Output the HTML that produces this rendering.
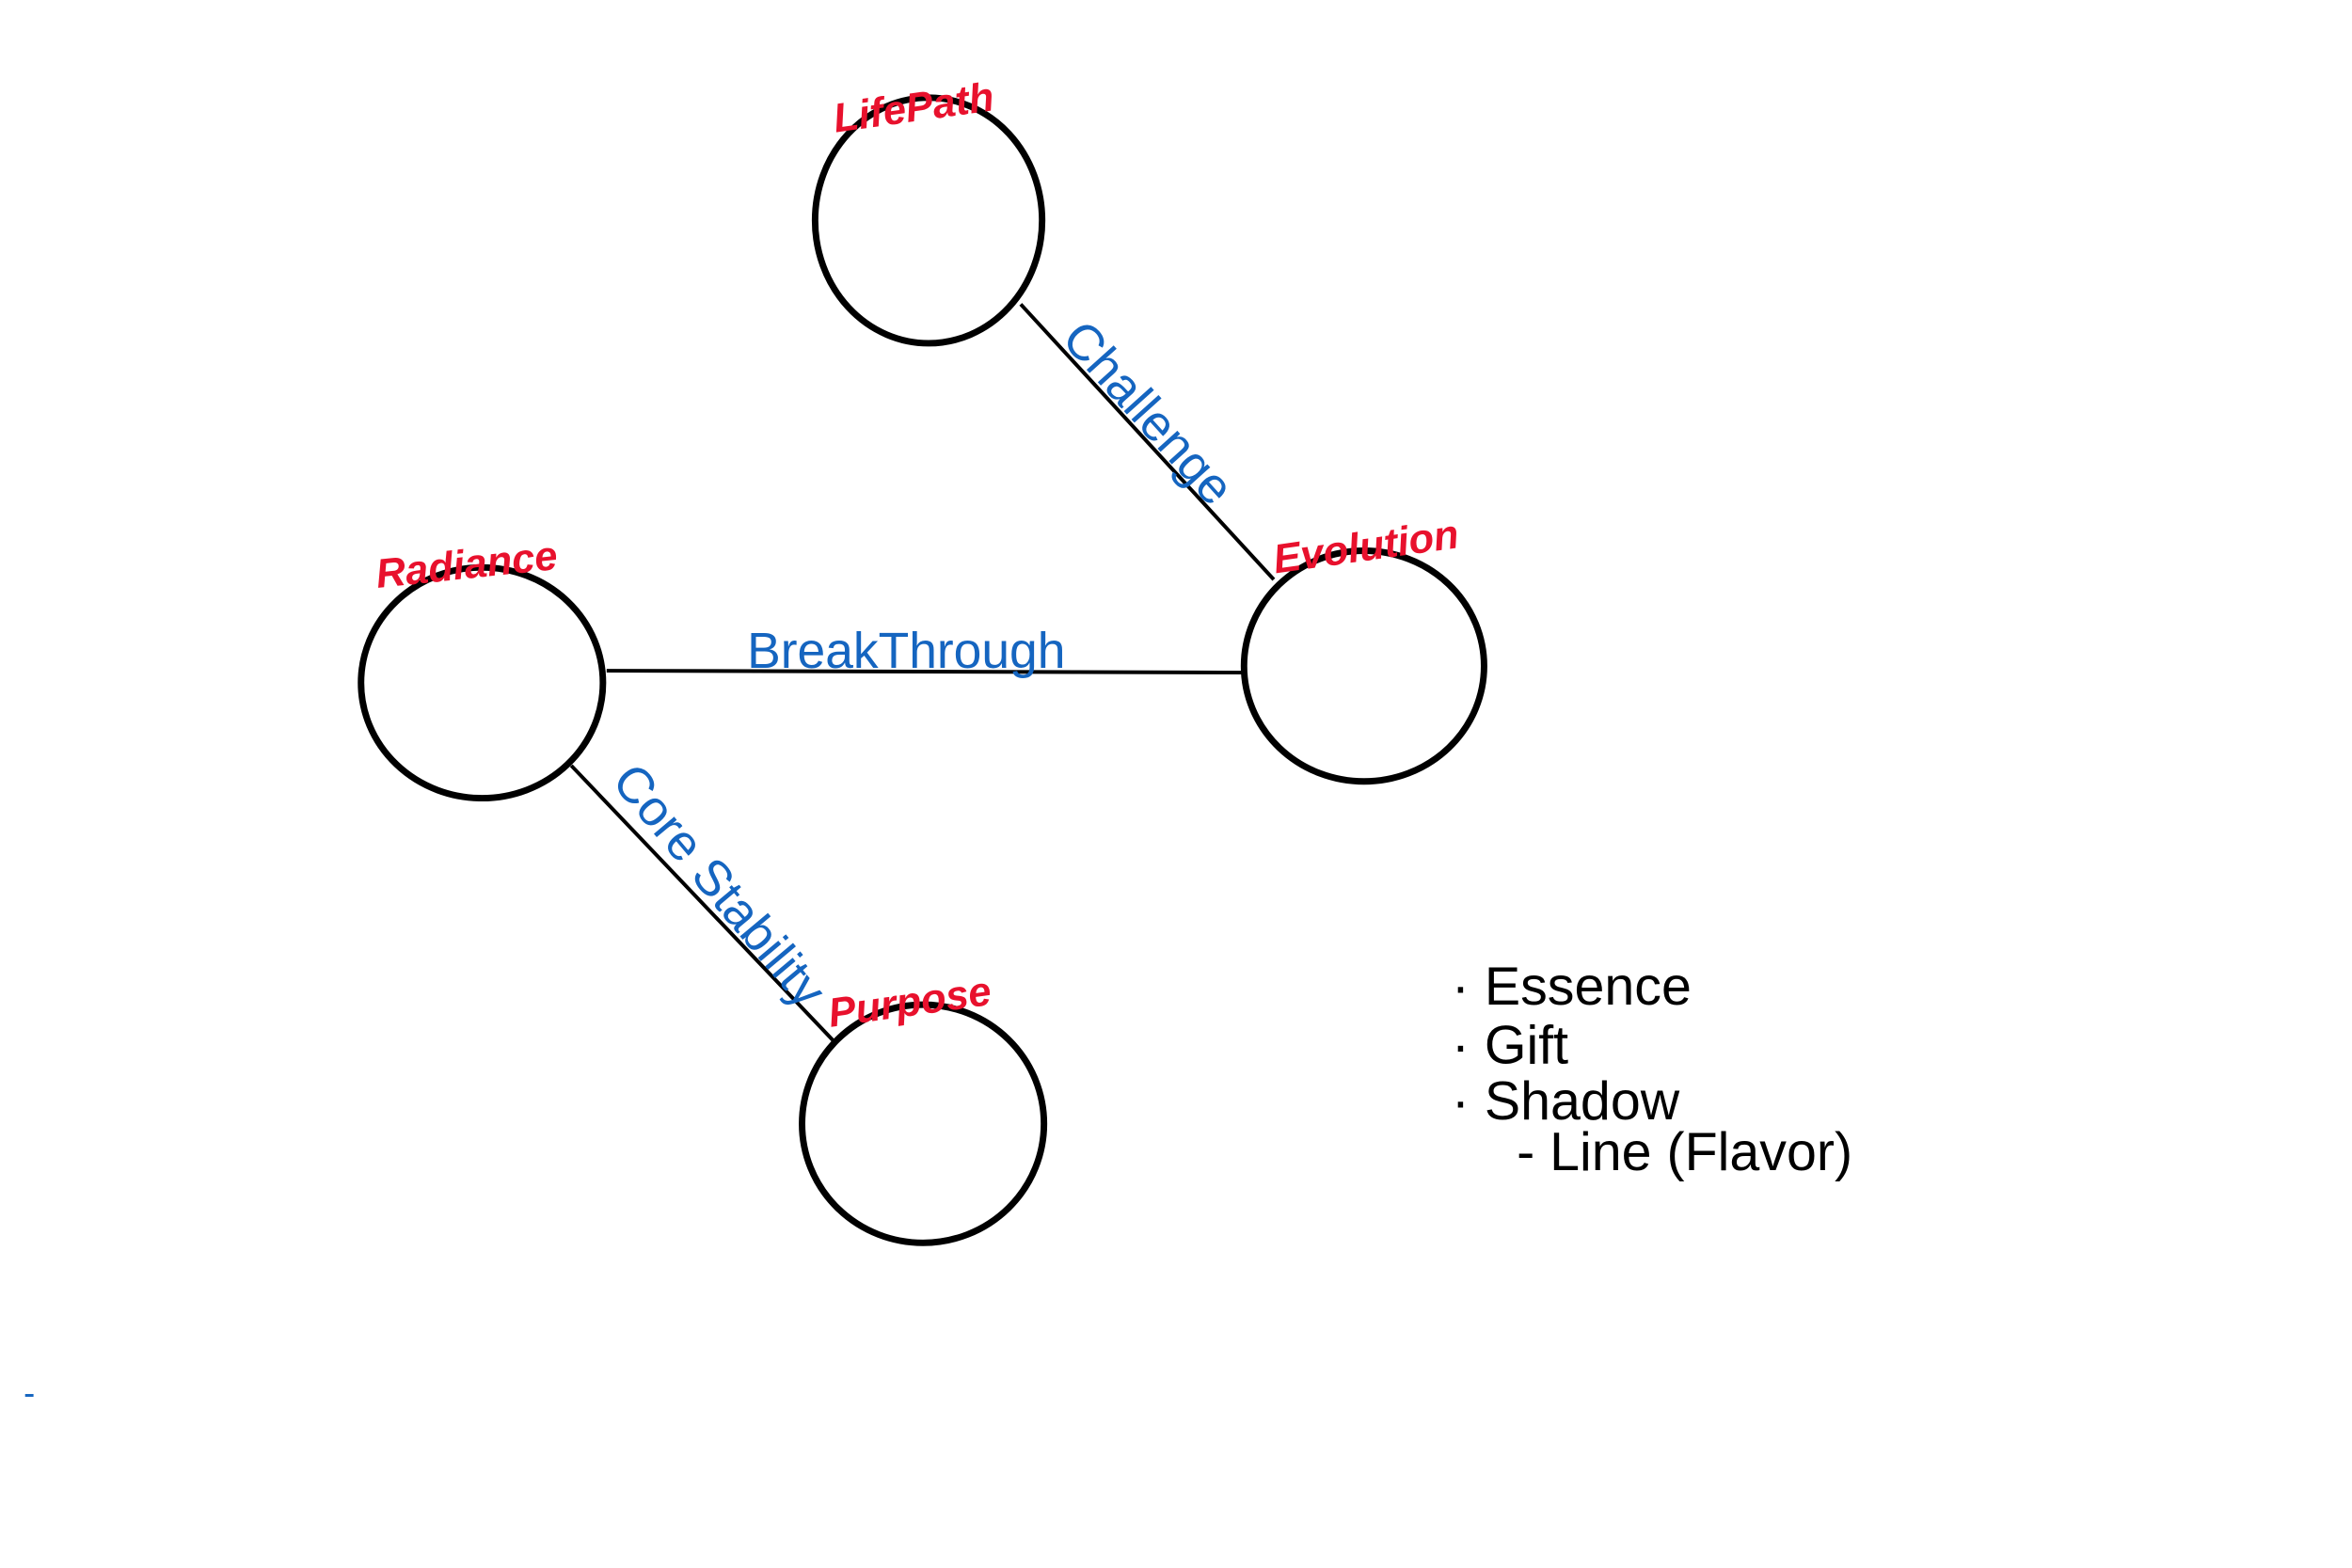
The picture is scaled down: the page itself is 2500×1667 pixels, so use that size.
<!DOCTYPE html>
<html><head><meta charset="utf-8"><style>
html,body{margin:0;padding:0;background:#fff;}
svg{display:block;}
text{font-family:"Liberation Sans",sans-serif;}
</style></head><body>
<svg width="2500" height="1667" viewBox="0 0 2500 1667" xmlns="http://www.w3.org/2000/svg">
<rect width="2500" height="1667" fill="#fff"/>
<g transform="scale(0.989)">
<g fill="none" stroke="#000" stroke-width="7">
<ellipse cx="998" cy="237" rx="122" ry="132"/>
<ellipse cx="1466" cy="716" rx="129" ry="124"/>
<ellipse cx="518" cy="734" rx="130" ry="124"/>
<ellipse cx="992" cy="1208" rx="130" ry="128"/>
</g>
<g stroke="#000" stroke-width="4">
<line x1="1097" y1="327" x2="1369" y2="623"/>
<line x1="652" y1="721" x2="1337" y2="723"/>
<line x1="614" y1="823" x2="895" y2="1118"/>
</g>
<g fill="#e8112d" font-size="44" font-style="italic" font-weight="bold">
<text x="895" y="130" transform="rotate(-8 985 115)">LifePath</text>
<text x="1368" y="605" transform="rotate(-8 1450 590)">Evolution</text>
<text x="404" y="622" transform="rotate(-6 500 610)">Radiance</text>
<text x="890" y="1093" transform="rotate(-8 970 1080)">Purpose</text>
</g>
<g fill="#1565c0" font-size="54">
<text x="1234" y="462" text-anchor="middle" transform="rotate(48 1234 444)">Challenge</text>
<text x="974" y="718" text-anchor="middle">BreakThrough</text>
<text x="773" y="970" text-anchor="middle" transform="rotate(50 773 952)">Core Stability</text>
</g>
<line x1="27" y1="1500" x2="36" y2="1500" stroke="#1565c0" stroke-width="3"/>
<g fill="#000" font-size="58">
<text x="1560" y="1080">· Essence</text>
<text x="1560" y="1143">· Gift</text>
<text x="1560" y="1203">· Shadow</text>
<text x="1630" y="1258">- Line (Flavor)</text>
</g>
</g>
</svg>
</body></html>
